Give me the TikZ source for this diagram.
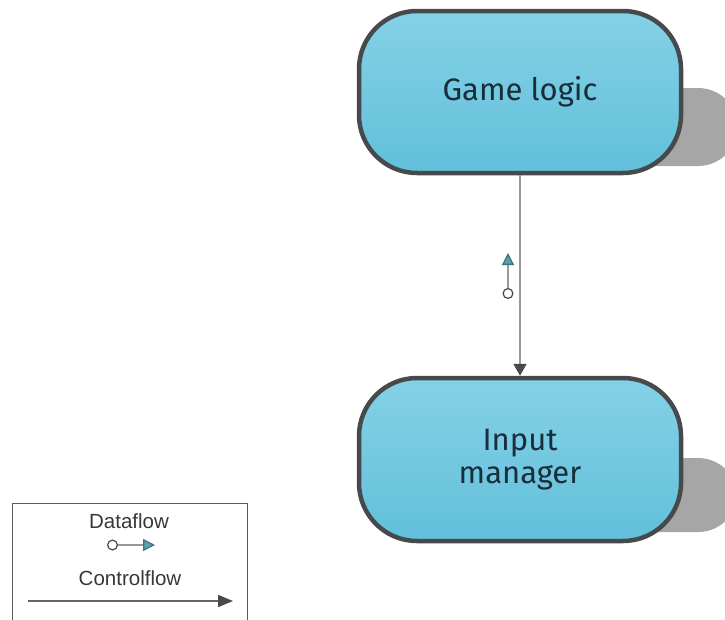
\documentclass[tikz,border=0pt]{standalone}
\usepackage{fontspec}
\setmainfont{Fira Sans}
\newfontfamily\legendfont{Liberation Sans}
\usetikzlibrary{arrows.meta}
\definecolor{boxtop}{HTML}{84D1E6}
\definecolor{boxbot}{HTML}{62C0DA}
\definecolor{boxedge}{HTML}{474A4C}
\definecolor{boxtext}{HTML}{1B2C3A}
\definecolor{shade}{HTML}{A6A6A6}
\definecolor{flowline}{HTML}{999999}
\definecolor{datatip}{HTML}{5AA3AE}
\tikzset{
  procbox/.style={draw=boxedge, line width=4.5pt, rounded corners=58pt,
    top color=boxtop, bottom color=boxbot, minimum width=322pt,
    minimum height=162pt, align=center, text=boxtext,
    font=\fontsize{31}{33}\selectfont},
  boxshadow/.style={fill=shade, rounded corners=40pt},
  ctrlflow/.style={draw=flowline, line width=2pt,
    -{Triangle[length=12pt,width=13pt,fill=boxedge,color=boxedge]}},
  dataflow/.style={draw=flowline, line width=1.3pt,
    {Circle[open,length=11pt,width=11pt,color=boxedge,fill=white,line width=1.2pt]}-{Triangle[length=12pt,width=12pt,fill=datatip,color=datatip!70!black]}},
  legendtext/.style={font=\legendfont\fontsize{20.5}{24}\selectfont, text=black!78}
}
\begin{document}
\begin{tikzpicture}[x=1pt,y=-1pt]
\useasboundingbox (0,0) rectangle (725,619);
\clip (0,0) rectangle (725,619);
% soft shadows behind the two processes
\fill[boxshadow] (420,88) rectangle (738,166);
\fill[boxshadow] (420,458) rectangle (738,532);
% processes
\node[procbox, minimum height=162pt] (logic) at (520,92) {Game logic};
\node[procbox, minimum height=163pt] (input) at (520,459.5) {Input\\manager};
% control flow between them
\draw[ctrlflow] (logic.south) -- (input.north);
% data flow marker beside the connector
\coordinate (dfrom) at (508,299);
\coordinate (dto) at (508,253);
\draw[dataflow] (dfrom) -- (dto);
% legend
\node[draw=black!65, line width=1pt, minimum width=235pt, minimum height=130pt,
      anchor=north west] (legend) at (12,503) {};
\node[legendtext] (ldata) at (129,521) {Dataflow};
\coordinate (ldfrom) at (107,545);
\coordinate (ldto) at (155,545);
\draw[dataflow] (ldfrom) -- (ldto);
\node[legendtext] (lctrl) at (130,578) {Controlflow};
\coordinate (lcfrom) at (28,601);
\coordinate (lcto) at (233,601);
\draw[ctrlflow, draw=boxedge!85, line width=1.6pt,
  -{Triangle[length=15pt,width=12pt,fill=boxedge,color=boxedge]}] (lcfrom) -- (lcto);
\end{tikzpicture}
\end{document}
